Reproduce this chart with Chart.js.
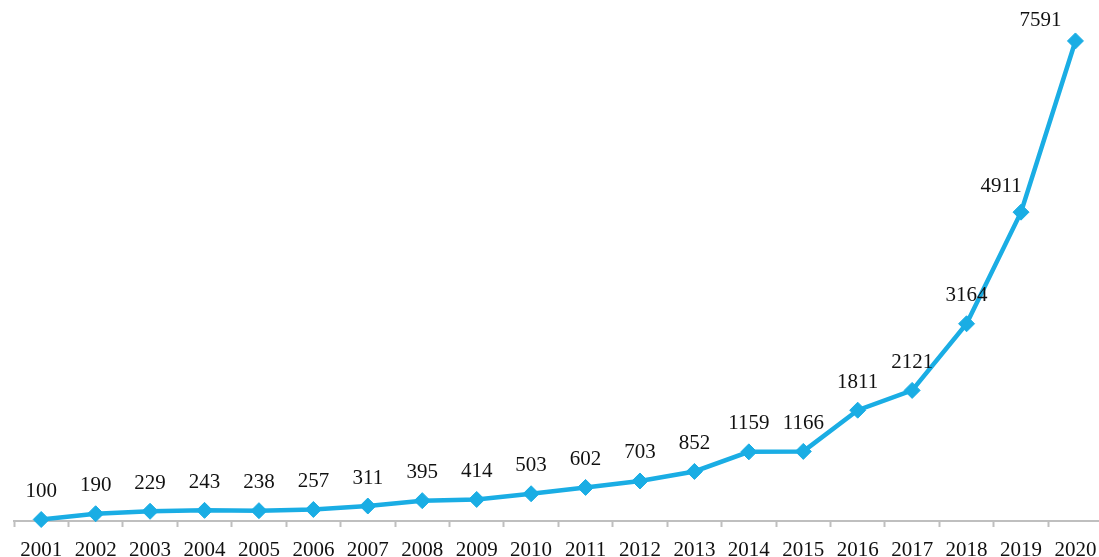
<!DOCTYPE html>
<html>
<head>
<meta charset="utf-8">
<script src="https://cdn.jsdelivr.net/npm/chart.js@4/dist/chart.umd.min.js"></script>
<style>
html,body{margin:0;padding:0;background:#fff;overflow:hidden;}
#wrap{width:1099px;height:557px;overflow:hidden;}
</style>
</head>
<body>
<div id="wrap"><canvas id="c" width="1109" height="575"></canvas></div>
<script>
const categories = ["2001","2002","2003","2004","2005","2006","2007","2008","2009","2010","2011","2012","2013","2014","2015","2016","2017","2018","2019","2020"];
const values = [100,190,229,243,238,257,311,395,414,503,602,703,852,1159,1166,1811,2121,3164,4911,7591];

const FONT = "'Liberation Serif', 'Times New Roman', serif";
const LINE_COLOR = "#1AADE4";

const labelPlugin = {
  id: 'pointLabels',
  afterDatasetsDraw(chart, args, opts) {
    const ctx = chart.ctx;
    const meta = chart.getDatasetMeta(0);
    const ds = chart.data.datasets[0].data;
    ctx.save();
    ctx.font = "21px " + FONT;
    ctx.fillStyle = "#111";
    ctx.textAlign = "center";
    ctx.textBaseline = "middle";
    meta.data.forEach((pt, i) => {
      const sh = (opts.shifts && opts.shifts[i]) || [0, 0];
      ctx.fillText(String(ds[i]), pt.x + sh[0], pt.y - opts.offset + sh[1]);
    });
    ctx.restore();
  }
};

new Chart(document.getElementById('c'), {
  type: 'line',
  data: {
    labels: categories,
    datasets: [{
      data: values,
      borderColor: LINE_COLOR,
      backgroundColor: LINE_COLOR,
      borderWidth: 4.5,
      pointStyle: 'rectRot',
      pointRadius: 8,
      pointHoverRadius: 8,
      pointBackgroundColor: LINE_COLOR,
      pointBorderColor: LINE_COLOR,
      pointBorderWidth: 1,
      tension: 0,
      clip: false
    }]
  },
  options: {
    responsive: false,
    animation: false,
    events: [],
    layout: { autoPadding: false, padding: { left: 14, right: 2, top: 0, bottom: 2 } },
    plugins: {
      legend: { display: false },
      tooltip: { enabled: false },
      pointLabels: { offset: 28, shifts: { 18: [-20, 2], 19: [-35, 8] } }
    },
    scales: {
      x: {
        offset: true,
        grid: {
          offset: true,
          drawOnChartArea: false,
          drawTicks: true,
          tickLength: 6,
          tickWidth: 2,
          tickColor: "#BFBFBF"
        },
        border: { display: true, color: "#BFBFBF", width: 2 },
        ticks: {
          color: "#111",
          padding: 12.5,
          maxRotation: 0,
          autoSkip: false,
          font: { family: FONT, size: 21, lineHeight: 1 }
        }
      },
      y: {
        display: false,
        min: 76.5,
        max: 8232
      }
    }
  },
  plugins: [labelPlugin]
});
</script>
</body>
</html>
